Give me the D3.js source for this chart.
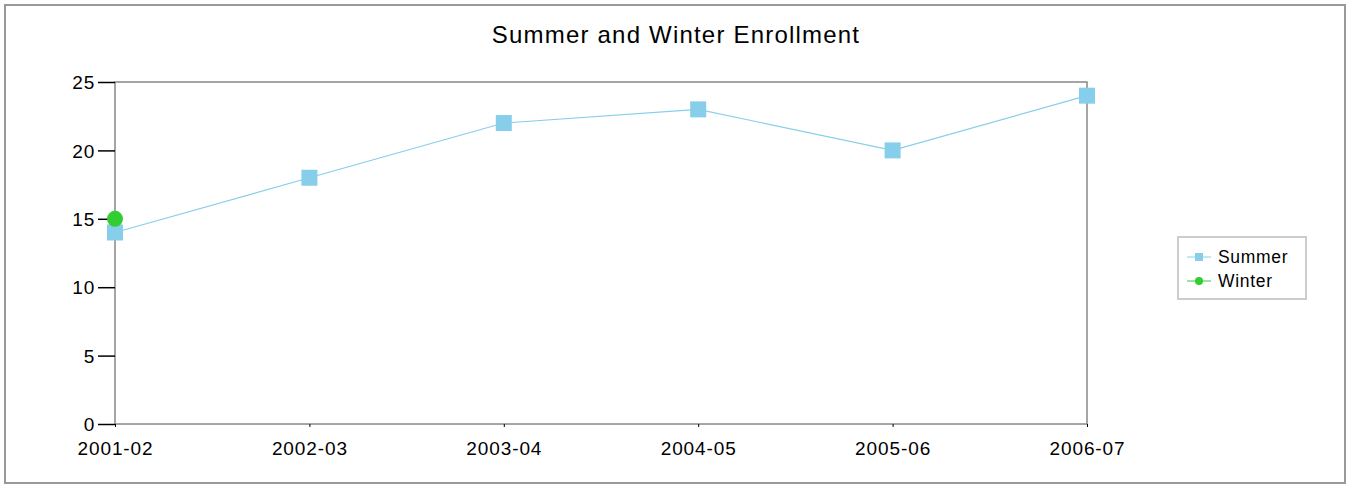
<!DOCTYPE html>
<html>
<head>
<meta charset="utf-8">
<script src="https://cdn.jsdelivr.net/npm/d3@7"></script>
<style>
  body { margin: 0; background: #fff; }
  text { font-family: "Liberation Sans", Arial, sans-serif; fill: #000; }
</style>
</head>
<body>
<div id="chart"></div>
<script>
// chart data
var years = ["2001-02", "2002-03", "2003-04", "2004-05", "2005-06", "2006-07"]
var summer = [14, 18, 22, 23, 20, 24]
var winter = [15, null, null, null, null, null]
var yTicks = [0, 5, 10, 15, 20, 25]
var seriesNames = ["Summer", "Winter"]
var seriesColors = ["#87CEEB", "#32CD32"]

var width = 1348, height = 485
var plot = {left: 115, right: 1087, top: 82, bottom: 424}

var svg = d3.select("#chart").append("svg")
    .attr("width", width)
    .attr("height", height)

// outer frame
svg.append("rect")
    .attr("x", 5).attr("y", 5)
    .attr("width", width - 8).attr("height", height - 7)
    .attr("fill", "none")
    .attr("stroke", "#999")
    .attr("stroke-width", 2)

svg.append("text")
    .attr("x", 676).attr("y", 43)
    .attr("text-anchor", "middle")
    .style("font-size", "24px")
    .style("letter-spacing", "1.2px")
    .text("Summer and Winter Enrollment")

var x = d3.scalePoint().domain(years).range([plot.left, plot.right])
var y = d3.scaleLinear().domain([0, 25]).range([plot.bottom, plot.top])

// plot box
svg.append("rect")
    .attr("x", plot.left).attr("y", plot.top)
    .attr("width", plot.right - plot.left)
    .attr("height", plot.bottom - plot.top)
    .attr("fill", "none")
    .attr("stroke", "#888")
    .attr("stroke-width", 1.5)

var yAxis = svg.append("g")
    .attr("transform", "translate(" + plot.left + ",0)")
    .call(d3.axisLeft(y).tickValues(yTicks).tickSize(17).tickPadding(3))
yAxis.select(".domain").remove()
yAxis.selectAll("line").attr("stroke", "#000").attr("stroke-width", 1.5)
yAxis.selectAll("text").style("font-size", "19px").style("letter-spacing", "0.8px").attr("dy", "0.35em")

var xAxis = svg.append("g")
    .attr("transform", "translate(0," + plot.bottom + ")")
    .call(d3.axisBottom(x).tickSize(3).tickPadding(0))
xAxis.select(".domain").remove()
xAxis.selectAll("line").attr("stroke", "#000")
xAxis.selectAll("text")
    .style("font-size", "19px")
    .style("letter-spacing", "0.9px")
    .attr("y", 31).attr("dy", null)

// summer line + squares
var line = d3.line()
    .defined(function(d){ return d != null })
    .x(function(d, i){ return x(years[i]) })
    .y(function(d){ return y(d) })

svg.append("path")
    .datum(summer)
    .attr("d", line)
    .attr("fill", "none")
    .attr("stroke", seriesColors[0])
    .attr("stroke-width", 1.2)

svg.selectAll(".sq")
    .data(summer)
    .enter().append("rect")
    .attr("class", "sq")
    .attr("x", function(d, i){ return x(years[i]) - 8 })
    .attr("y", function(d){ return y(d) - 8 })
    .attr("width", 16).attr("height", 16)
    .attr("fill", seriesColors[0])

// winter
svg.append("path")
    .datum(winter)
    .attr("d", line)
    .attr("fill", "none")
    .attr("stroke", seriesColors[1])

svg.selectAll(".dot")
    .data(winter.map(function(d, i){ return {v: d, k: years[i]} }).filter(function(d){ return d.v != null }))
    .enter().append("circle")
    .attr("class", "dot")
    .attr("cx", function(d){ return x(d.k) })
    .attr("cy", function(d){ return y(d.v) })
    .attr("r", 8)
    .attr("fill", seriesColors[1])

// legend
var lg = svg.append("g").attr("transform", "translate(1178,237)")
lg.append("rect")
    .attr("width", 128).attr("height", 62)
    .attr("fill", "#fff")
    .attr("stroke", "#ccc")
    .attr("stroke-width", 2)

seriesNames.forEach(function(name, i){
    var yy = 20 + i * 24
    lg.append("line")
        .attr("x1", 9).attr("x2", 33)
        .attr("y1", yy).attr("y2", yy)
        .attr("stroke", seriesColors[i])
    if (i == 0) {
        lg.append("rect")
            .attr("x", 17).attr("y", yy - 4)
            .attr("width", 8).attr("height", 8)
            .attr("fill", seriesColors[i])
    } else {
        lg.append("circle")
            .attr("cx", 21).attr("cy", yy).attr("r", 4)
            .attr("fill", seriesColors[i])
    }
    lg.append("text")
        .attr("x", 40).attr("y", yy)
        .attr("dy", "0.35em")
        .style("font-size", "17.5px")
        .style("letter-spacing", "0.7px")
        .text(name)
})
</script>
</body>
</html>
